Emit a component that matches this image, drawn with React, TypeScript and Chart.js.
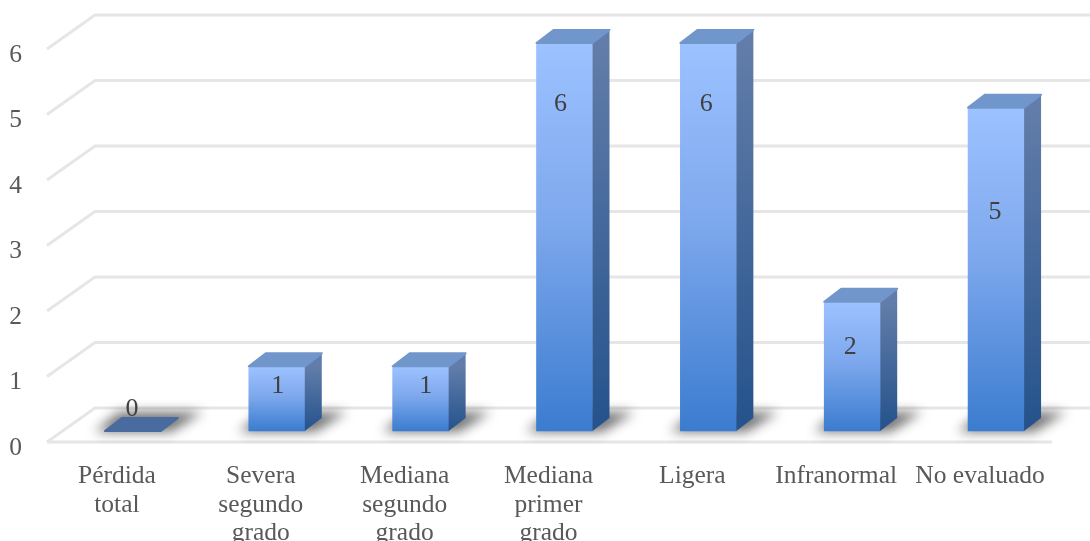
import React, { useEffect, useRef } from "react";
import { Chart, registerables } from "chart.js";

Chart.register(...registerables);

const categories: string[][] = [
  ["Pérdida", "total"],
  ["Severa", "segundo", "grado"],
  ["Mediana", "segundo", "grado"],
  ["Mediana", "primer", "grado"],
  ["Ligera"],
  ["Infranormal"],
  ["No evaluado"],
];
const seriesValues: number[] = [0, 1, 1, 6, 6, 2, 5];
const axisTicks: number[] = [0, 1, 2, 3, 4, 5, 6];

// Where each value label sits relative to the top of its bar.
const labelRise: number[] = [22, -20, -20, -61, -61, -46, -105];
const labelShift: number[] = [-1, 1, 5, -4, -2, -2, -1];

const FONT = '"Liberation Serif", serif';
const DEPTH_X = 17;
const DEPTH_Y = 13;
const GRID_DX = 48;
const GRID_NEAR = 4;
const GRID_FAR = 38;

const box3d = {
  id: "box3d",
  beforeDatasetsDraw(chart: any) {
    const { ctx, scales } = chart;
    const grid = scales.yFront;
    const left = 47;
    const right = 1052;
    ctx.save();
    ctx.strokeStyle = "#e6e6e6";
    ctx.lineWidth = 3;
    axisTicks.forEach((v) => {
      const y = grid.getPixelForValue(v);
      ctx.beginPath();
      ctx.moveTo(left, y - GRID_NEAR);
      ctx.lineTo(left + GRID_DX, y - GRID_FAR);
      ctx.lineTo(1090, y - GRID_FAR);
      ctx.stroke();
    });
    const floor = grid.getPixelForValue(0) - GRID_NEAR;
    ctx.beginPath();
    ctx.moveTo(left, floor);
    ctx.lineTo(right, floor);
    ctx.stroke();

    // Soft shadow cast on the floor by each box.
    const meta = chart.getDatasetMeta(0);
    const base = scales.y.getPixelForValue(0);
    ctx.filter = "blur(6px)";
    ctx.fillStyle = "rgba(0,0,0,0.55)";
    meta.data.forEach((bar: any) => {
      const x0 = bar.x - bar.width / 2;
      const x1 = bar.x + bar.width / 2;
      ctx.beginPath();
      ctx.moveTo(x0 - 10, base + 1);
      ctx.lineTo(x1 + 10, base + 1);
      ctx.lineTo(x1 + 42, base - 19);
      ctx.lineTo(x0 + 14, base - 19);
      ctx.closePath();
      ctx.fill();
    });
    ctx.restore();
  },
  afterDatasetsDraw(chart: any) {
    const { ctx, scales } = chart;
    const meta = chart.getDatasetMeta(0);
    const base = scales.y.getPixelForValue(0);
    ctx.save();
    meta.data.forEach((bar: any, i: number) => {
      const x0 = bar.x - bar.width / 2;
      const x1 = bar.x + bar.width / 2;
      const top = bar.y;
      const flat = seriesValues[i] === 0;

      if (!flat) {
        const side = ctx.createLinearGradient(0, top, 0, base);
        side.addColorStop(0, "#627da9");
        side.addColorStop(1, "#24528c");
        ctx.fillStyle = side;
        ctx.beginPath();
        ctx.moveTo(x1, top);
        ctx.lineTo(x1 + DEPTH_X, top - DEPTH_Y);
        ctx.lineTo(x1 + DEPTH_X, base - DEPTH_Y);
        ctx.lineTo(x1, base);
        ctx.closePath();
        ctx.fill();
      }

      ctx.fillStyle = flat ? "#4a6b9f" : "#7196cb";
      ctx.lineJoin = "round";
      ctx.lineWidth = 2;
      ctx.strokeStyle = ctx.fillStyle;
      ctx.beginPath();
      ctx.moveTo(x0, top);
      ctx.lineTo(x0 + DEPTH_X, top - DEPTH_Y);
      ctx.lineTo(x1 + DEPTH_X, top - DEPTH_Y);
      ctx.lineTo(x1, top);
      ctx.closePath();
      ctx.fill();
      ctx.stroke();

      ctx.fillStyle = "#404040";
      ctx.font = `26px ${FONT}`;
      ctx.textAlign = "center";
      ctx.textBaseline = "middle";
      ctx.fillText(String(seriesValues[i]), bar.x + labelShift[i], top - labelRise[i]);
    });
    ctx.restore();
  },
};

export default function App() {
  const ref = useRef<HTMLCanvasElement>(null);

  useEffect(() => {
    const chart = new Chart(ref.current!, {
      type: "bar",
      data: {
        labels: categories,
        datasets: [
          {
            data: seriesValues,
            barThickness: 56,
            borderRadius: 2,
            yAxisID: "y",
            backgroundColor: (c: any) => {
              const area = c.chart.chartArea;
              const y = c.chart.scales.y;
              if (!area || !y) return "#5d93e0";
              const v = seriesValues[c.dataIndex] ?? 0;
              const g = c.chart.ctx.createLinearGradient(0, y.getPixelForValue(v), 0, y.getPixelForValue(0));
              g.addColorStop(0, "#9cc2ff");
              g.addColorStop(0.45, "#7fa9ee");
              g.addColorStop(1, "#3b7ccf");
              return g;
            },
          },
        ],
      },
      options: {
        responsive: false,
        animation: false,
        layout: { padding: { left: 0, right: 22, top: 43, bottom: 0 } },
        plugins: { legend: { display: false }, tooltip: { enabled: false } },
        scales: {
          x: {
            afterFit: (s: any) => {
              s.height = 95;
              s.paddingLeft = 0;
              s.paddingRight = 0;
            },
            grid: { display: false, drawTicks: false },
            border: { display: false },
            ticks: {
              autoSkip: false,
              maxRotation: 0,
              minRotation: 0,
              labelOffset: -16,
              padding: 16,
              color: "#595959",
              font: { family: FONT, size: 25.5, lineHeight: 1.12 },
            },
          },
          // Axis that positions the boxes, which stand a little behind the floor edge.
          y: {
            display: false,
            min: -15 / 64.7,
            max: 6,
          },
          // Axis that carries the printed numbers and the back-wall grid.
          yFront: {
            position: "left",
            min: 0,
            max: 393 / 65.5 + 10 / 65.5,
            afterFit: (s: any) => {
              s.width = 61;
              s.paddingTop = 0;
              s.paddingBottom = 0;
            },
            grid: { display: false, drawTicks: false },
            border: { display: false },
            ticks: {
              stepSize: 1,
              includeBounds: false,
              labelOffset: 2,
              padding: 39,
              color: "#595959",
              font: { family: FONT, size: 25.5 },
            },
          },
        },
      } as any,
      plugins: [box3d],
    });
    return () => chart.destroy();
  }, []);

  return (
    <div style={{ position: "fixed", left: 0, top: 0, width: 1090, height: 541 }}>
      <canvas ref={ref} width={1090} height={541} style={{ display: "block" }} />
    </div>
  );
}
